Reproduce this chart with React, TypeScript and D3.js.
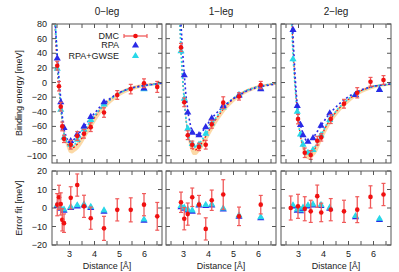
import * as d3 from "d3";

const LEGS = ["0−leg", "1−leg", "2−leg"];

// DMC points: distance, binding energy, error vs fit, error bar
const dmcX0 = [2.51, 2.58, 2.65, 2.71, 2.78, 3.05, 3.31, 3.58, 3.85, 4.38, 4.91, 5.45, 5.98, 6.51];
const dmcE0 = [23, -5, -33, -60, -77, -85, -73, -70, -61, -41, -17, -9, -1, -6];
const dmcFitErr0 = [1.8, 5.8, 2.2, -6.4, -8.2, 5.5, 12.4, 0.9, -5.5, -11, -1, -1, 1.8, -4.5];
const dmcSig0 = [6, 6.5, 6, 6, 5, 6, 6, 6, 6, 6.5, 6, 6.5, 6, 7.5];

const dmcX1 = [2.9, 3.03, 3.17, 3.35, 3.62, 3.89, 4.13, 4.59, 5.22, 6.09];
const dmcE1 = [48, -27, -72, -85, -88, -85, -57, -27.5, -19, -3.5];
const dmcFitErr1 = [3.1, -5.8, -3.3, 5.8, 1.8, -11.3, 4.2, 7.3, -4.5, 1.8];
const dmcSig1 = [5.5, 6, 6, 5, 5, 6, 5.5, 8, 5, 5];

const dmcX2 = [2.69, 2.98, 3.25, 3.49, 3.75, 3.91, 4.29, 4.82, 5.35, 5.88, 6.4];
const dmcE2 = [110, -50, -96, -99, -79.5, -75, -50, -29, -14, 1, 3.5];
const dmcFitErr2 = [0, 0.9, -0.4, -1.8, 6.4, -2.4, -0.9, -1.8, -0.9, 6, 7.3];
const dmcSig2 = [6.5, 6.5, 6.5, 6, 6, 5, 6, 6, 7, 6, 6];

// RPA / RPA+GWSE points
const rpaX0 = [2.51, 2.65, 2.78, 3.05, 3.31, 3.58, 3.85, 4.38, 5.98];
const rpaE0 = [33, -27, -62, -80, -71, -60, -47, -27, -8];
const gwE0 = [19, -37, -75, -85, -78, -64, -51, -30, -9];
const rpaFitErr0 = [1.5, 0, -1, 0.4, 1.3, 1.8, 0.5, -1.5, -6.4];

const rpaX1 = [2.9, 3.03, 3.17, 3.35, 3.62, 3.89, 4.13, 4.59, 5.22, 6.09];
const rpaE1 = [85, 10, -41, -68.5, -72, -61, -49, -32, -18, -9];
const gwE1 = [43, -22, -63, -84, -85, -70, -56, -34, -17, -8];
const rpaFitErr1 = [0.9, 0, -0.9, -1.5, 1.8, 1.5, 1.8, -0.4, -4.2, -5.1];

const rpaX2 = [2.78, 2.95, 3.08, 3.18, 3.38, 3.58, 3.9, 4.25, 5.28, 6.24];
const rpaE2 = [72, -32, -58, -72, -81, -76, -59, -42, -17, -10];
const gwE2 = [32, -40, -71, -85, -96, -92, -72, -51, -17, -10];
const rpaFitErr2 = [1.3, -1, -1.3, 0, 1.3, 1.8, 1.5, 0, -4.5, -6];

// curves: DMC fit (with band), RPA, RPA+GWSE
const fitX0 = [2.4, 2.46, 2.51, 2.55, 2.6, 2.65, 2.7, 2.75, 2.8, 2.9, 3.0, 3.1, 3.2, 3.35, 3.5, 3.7, 3.9, 4.2, 4.5, 4.9, 5.4, 6.0, 6.7];
const fitY0 = [95, 50, 21, 0, -18, -35, -51, -63, -72, -83, -89, -90, -88, -83, -76, -64, -53, -38, -27, -16, -8, -3, -1];
const band0 = [3, 3, 3, 3, 4, 5, 5, 6, 6, 6, 7, 7, 7, 8, 8, 8, 8, 7, 6, 5, 4, 3, 2];
const rpaCX0 = [2.41, 2.45, 2.5, 2.55, 2.6, 2.65, 2.7, 2.75, 2.8, 2.9, 3.0, 3.1, 3.2, 3.35, 3.5, 3.7, 3.9, 4.2, 4.5, 4.9, 5.4, 6.0, 6.7];
const rpaCY0 = [95, 70, 42, 18, -3, -22, -42, -57, -67, -77, -81, -80, -77, -71, -64, -55, -46, -34, -25, -15, -8, -4, -1];
const gwCY0 = [95, 65, 35, 10, -12, -32, -50, -63, -72, -82, -86, -87, -85, -79, -71, -60, -50, -37, -27, -16, -8, -4, -1];

const fitX1 = [2.84, 2.9, 2.95, 3.0, 3.05, 3.1, 3.15, 3.2, 3.3, 3.4, 3.5, 3.6, 3.75, 3.9, 4.1, 4.3, 4.6, 5.0, 5.5, 6.0, 6.7];
const fitY1 = [95, 45, 15, -10, -32, -50, -64, -75, -87, -92, -92, -89, -82, -73, -61, -50, -36, -22, -11, -5, -1];
const band1 = [3, 3, 4, 5, 5, 6, 6, 6, 7, 7, 7, 7, 8, 8, 8, 7, 6, 5, 4, 3, 2];
const rpaCX1 = [2.86, 2.9, 2.95, 3.0, 3.05, 3.1, 3.2, 3.3, 3.45, 3.6, 3.8, 4.0, 4.2, 4.6, 5.0, 5.5, 6.0, 6.7];
const rpaCY1 = [110, 80, 50, 25, 2, -18, -45, -62, -71, -72, -65, -55, -46, -32, -22, -12, -6, -2];
const gwCY1 = [95, 43, 13, -12, -33, -50, -63, -73, -84, -88, -88, -85, -78, -70, -58, -48, -34, -21, -11, -5, -1];

const fitX2 = [2.72, 2.76, 2.8, 2.85, 2.9, 2.95, 3.0, 3.05, 3.1, 3.2, 3.3, 3.4, 3.5, 3.6, 3.75, 3.9, 4.1, 4.3, 4.6, 5.0, 5.5, 6.0, 6.7];
const fitY2 = [100, 65, 35, 5, -20, -40, -55, -67, -77, -90, -96, -98, -97, -93, -86, -74, -60, -49, -36, -23, -11, -5, -2];
const band2 = [3, 3, 3, 4, 4, 5, 5, 6, 6, 7, 7, 7, 7, 8, 8, 8, 8, 7, 6, 5, 4, 3, 2];
const rpaCX2 = [2.73, 2.76, 2.8, 2.85, 2.9, 2.95, 3.0, 3.08, 3.18, 3.3, 3.4, 3.5, 3.6, 3.75, 3.9, 4.1, 4.25, 4.6, 5.0, 5.5, 6.0, 6.7];
const rpaCY2 = [100, 80, 50, 18, -10, -30, -45, -58, -71, -79, -81, -79, -75, -67, -59, -49, -42, -30, -19, -10, -5, -2];
const gwCY2 = [85, 52, 25, 0, -22, -40, -55, -68, -76, -87, -94, -96, -95, -91, -83, -72, -59, -48, -35, -22, -11, -5, -2];

const TOP_TICKS = [-100, -80, -60, -40, -20, 0, 20, 40, 60, 80];
const BOT_TICKS = [-20, -10, 0, 10, 20];
const X_TICKS = [2.5, 3, 3.5, 4, 4.5, 5, 5.5, 6, 6.5];

const panels = [
  { dmcX: dmcX0, dmcE: dmcE0, dmcErr: dmcFitErr0, sig: dmcSig0, rpaX: rpaX0, rpaE: rpaE0, gwE: gwE0, rpaErr: rpaFitErr0,
    fitX: fitX0, fitY: fitY0, band: band0, rpaCX: rpaCX0, rpaCY: rpaCY0, gwCY: gwCY0 },
  { dmcX: dmcX1, dmcE: dmcE1, dmcErr: dmcFitErr1, sig: dmcSig1, rpaX: rpaX1, rpaE: rpaE1, gwE: gwE1, rpaErr: rpaFitErr1,
    fitX: fitX1, fitY: fitY1, band: band1, rpaCX: rpaCX1, rpaCY: rpaCY1, gwCY: gwCY1 },
  { dmcX: dmcX2, dmcE: dmcE2, dmcErr: dmcFitErr2, sig: dmcSig2, rpaX: rpaX2, rpaE: rpaE2, gwE: gwE2, rpaErr: rpaFitErr2,
    fitX: fitX2, fitY: fitY2, band: band2, rpaCX: rpaCX2, rpaCY: rpaCY2, gwCY: gwCY2 },
];

const FONT = "'Liberation Sans', Arial, sans-serif";
const RED = "#f01010";
const ERR = "#f05a5a";
const BLUE = "#2a2ae6";
const CYAN = "#28d8e8";
const FRAME = "#555";

const tri = d3.symbol().type(d3.symbolTriangle).size(22)() ?? "";

function ErrPoint({ x, y, lo, hi }: { x: number; y: number; lo: number; hi: number }) {
  return (
    <g>
      <line x1={x} x2={x} y1={lo} y2={hi} stroke={ERR} strokeWidth={1.3} />
      <line x1={x - 2} x2={x + 2} y1={lo} y2={lo} stroke={ERR} strokeWidth={1.2} />
      <line x1={x - 2} x2={x + 2} y1={hi} y2={hi} stroke={ERR} strokeWidth={1.2} />
      <circle cx={x} cy={y} r={2.3} fill={RED} />
    </g>
  );
}

export default function App() {
  const lefts = [52, 166, 281];
  const pw = 110;
  const yTop = d3.scaleLinear().domain([-110, 80]).range([163, 24]);
  const yBot = d3.scaleLinear().domain([-20, 20]).range([245, 171]);

  return (
    <svg width={399} height={272} style={{ position: "absolute", left: 0, top: 0 }} fontFamily={FONT}>
      <rect width={399} height={272} fill="#fff" />
      <defs>
        {lefts.map((l, i) => (
          <g key={i}>
            <clipPath id={`ct${i}`}><rect x={l} y={24} width={pw} height={139} /></clipPath>
            <clipPath id={`cb${i}`}><rect x={l} y={171} width={pw} height={74} /></clipPath>
          </g>
        ))}
      </defs>

      {panels.map((p, i) => {
        const l = lefts[i];
        const x = d3.scaleLinear().domain([2.3, 6.7]).range([l, l + pw]);
        const pts = (xs: number[], ys: number[]) => xs.map((v, k) => [v, ys[k]] as [number, number]);
        const line = d3.line<[number, number]>().x((d) => x(d[0])).y((d) => yTop(d[1]));
        const area = d3
          .area<number>()
          .curve(d3.curveMonotoneX)
          .x((_, k) => x(p.fitX[k]))
          .y0((_, k) => yTop(p.fitY[k] - p.band[k]))
          .y1((_, k) => yTop(p.fitY[k] + p.band[k] * 0.4));
        return (
          <g key={i}>
            <text x={l + pw / 2} y={15} fontSize={10} textAnchor="middle" fill="#222">{LEGS[i]}</text>

            {/* top panel */}
            <g clipPath={`url(#ct${i})`}>
              <path d={area(p.fitX) ?? ""} fill="#fbd296" opacity={0.85} />
              <path d={line(pts(p.fitX, p.fitY)) ?? ""} fill="none" stroke={RED} strokeWidth={1.2} strokeDasharray="2,2" />
              <path d={line(pts(p.fitX, p.gwCY)) ?? ""} fill="none" stroke={CYAN} strokeWidth={1.6} strokeDasharray="2,2" />
              <path d={line(pts(p.rpaCX, p.rpaCY)) ?? ""} fill="none" stroke={BLUE} strokeWidth={1.6} strokeDasharray="2,2.5" />
              {p.rpaX.map((v, k) => (
                <path key={`g${k}`} d={tri} transform={`translate(${x(v)},${yTop(p.gwE[k])})`} fill={CYAN} />
              ))}
              {p.rpaX.map((v, k) => (
                <path key={`r${k}`} d={tri} transform={`translate(${x(v)},${yTop(p.rpaE[k])})`} fill={BLUE} />
              ))}
              {p.dmcX.map((v, k) => (
                <ErrPoint key={k} x={x(v)} y={yTop(p.dmcE[k])}
                  lo={yTop(p.dmcE[k] - p.sig[k])} hi={yTop(p.dmcE[k] + p.sig[k])} />
              ))}
            </g>

            {/* bottom panel */}
            <g clipPath={`url(#cb${i})`}>
              {p.rpaX.map((v, k) => (
                <g key={`t${k}`}>
                  <path d={tri} transform={`translate(${x(v)},${yBot(p.rpaErr[k]) + 0.8})`} fill={BLUE} />
                  <path d={tri} transform={`translate(${x(v)},${yBot(p.rpaErr[k]) - 0.3})`} fill={CYAN} />
                </g>
              ))}
              {p.dmcX.map((v, k) => (
                <ErrPoint key={k} x={x(v)} y={yBot(p.dmcErr[k])}
                  lo={yBot(p.dmcErr[k] - p.sig[k])} hi={yBot(p.dmcErr[k] + p.sig[k])} />
              ))}
            </g>

            {/* frames and ticks */}
            {[[24, 163, yTop, TOP_TICKS], [171, 245, yBot, BOT_TICKS]].map(([t, b, ys, ticks]: any, j) => (
              <g key={j} stroke={FRAME} strokeWidth={1}>
                <rect x={l} y={t} width={pw} height={b - t} fill="none" />
                {X_TICKS.map((v) => (
                  <g key={v}>
                    <line x1={x(v)} x2={x(v)} y1={b} y2={b - 4} />
                    <line x1={x(v)} x2={x(v)} y1={t} y2={t + 4} />
                  </g>
                ))}
                {ticks.map((v: number) => (
                  <g key={v}>
                    <line x1={l} x2={l + 4} y1={ys(v)} y2={ys(v)} />
                    <line x1={l + pw} x2={l + pw - 4} y1={ys(v)} y2={ys(v)} />
                  </g>
                ))}
              </g>
            ))}

            {X_TICKS.filter((v) => Number.isInteger(v)).map((v) => (
              <text key={v} x={x(v)} y={257} fontSize={9} textAnchor="middle" fill="#222">{v}</text>
            ))}
            <text x={l + pw / 2} y={269} fontSize={9} textAnchor="middle" fill="#222">Distance [Å]</text>
          </g>
        );
      })}

      {TOP_TICKS.map((v) => (
        <text key={v} x={47} y={yTop(v) + 3} fontSize={9} textAnchor="end" fill="#222">{String(v).replace("-", "−")}</text>
      ))}
      {BOT_TICKS.map((v) => (
        <text key={v} x={47} y={yBot(v) + 3} fontSize={9} textAnchor="end" fill="#222">{String(v).replace("-", "−")}</text>
      ))}
      <text transform="translate(22,93) rotate(-90)" fontSize={9} textAnchor="middle" fill="#222">Binding energy [meV]</text>
      <text transform="translate(22,208) rotate(-90)" fontSize={9} textAnchor="middle" fill="#222">Error fit [meV]</text>

      {/* legend */}
      <g fontSize={9} fill="#222" textAnchor="end">
        <text x={119} y={39}>DMC</text>
        <text x={119} y={48}>RPA</text>
        <text x={119} y={59}>RPA+GWSE</text>
      </g>
      <line x1={124} x2={147} y1={36} y2={36} stroke={ERR} strokeWidth={1.3} />
      <line x1={124} x2={124} y1={34} y2={38} stroke={ERR} strokeWidth={1.2} />
      <line x1={147} x2={147} y1={34} y2={38} stroke={ERR} strokeWidth={1.2} />
      <circle cx={135.5} cy={36} r={2.3} fill={RED} />
      <path d={tri} transform="translate(135.5,45.5)" fill={BLUE} />
      <path d={tri} transform="translate(135.5,56)" fill={CYAN} />
    </svg>
  );
}
